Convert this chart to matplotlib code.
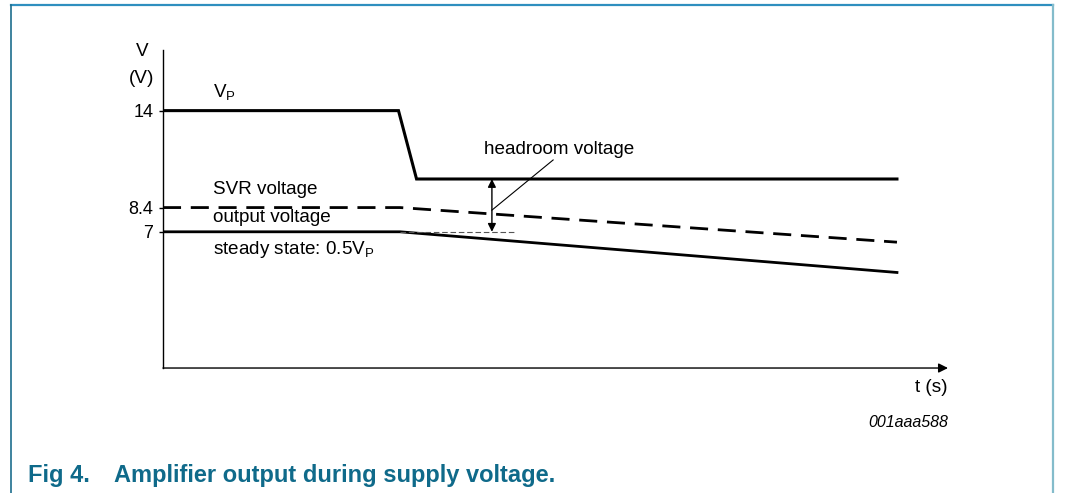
import matplotlib
matplotlib.use("Agg")
import matplotlib.pyplot as plt
from matplotlib.lines import Line2D

plt.rcParams['font.family'] = ['Liberation Sans', 'DejaVu Sans']

# schematic curves (t in arbitrary units, V in volts)
t_vp = [0, 3.0, 3.23, 9.35]
v_vp = [14, 14, 10.05, 10.05]
t_svr = [0, 3.02, 9.35]
v_svr = [8.4, 8.4, 6.4]
t_out = [0, 3.02, 9.35]
v_out = [7, 7, 4.65]
yticks = [14, 8.4, 7]
ytick_labels = ['14', '8.4', '7']
t_headroom = 4.19

fig = plt.figure(figsize=(10.66, 4.93), dpi=100)
ax = fig.add_axes([0.1529, 0.2535, 0.7364, 0.645])
ax.set_xlim(0, 10)
ax.set_ylim(-0.87, 17.5)

for s in ['top', 'right', 'bottom']:
    ax.spines[s].set_visible(False)
ax.spines['left'].set_linewidth(1.0)
ax.set_xticks([])
ax.set_yticks(yticks)
ax.set_yticklabels(ytick_labels, fontsize=13)
ax.tick_params(axis='y', length=3, width=1.0, pad=4)

# x axis with arrow
ax.annotate('', xy=(1, 0), xytext=(0, 0), xycoords='axes fraction',
            arrowprops=dict(arrowstyle='-|>', lw=1.0, color='black',
                            mutation_scale=14, shrinkA=0, shrinkB=0))

ax.plot(t_vp, v_vp, color='black', lw=2.2, solid_joinstyle='miter')
ax.plot(t_svr, v_svr, color='black', lw=2.0, dashes=(6.5, 3.5))
ax.plot(t_out, v_out, color='black', lw=2.0)
ax.plot([t_out[1], 4.48], [7, 7], color='#555555', lw=0.8, dashes=(5, 2.5))

# headroom arrow
ax.annotate('', xy=(t_headroom, v_vp[-1]), xytext=(t_headroom, v_out[0]),
            arrowprops=dict(arrowstyle='<|-|>', lw=1.0, color='black',
                            mutation_scale=12, shrinkA=0, shrinkB=0))
ax.plot([t_headroom, 4.97], [8.25, 11.15], color='black', lw=0.8)

fs = 13.6
ax.text(-0.27, 17.4, 'V', fontsize=fs, ha='center', va='center', clip_on=False)
ax.text(-0.27, 15.85, '(V)', fontsize=fs, ha='center', va='center', clip_on=False)
ax.text(0.64, 15.0, r'V$_\mathregular{P}$', fontsize=fs, va='center')
ax.text(0.64, 9.45, 'SVR voltage', fontsize=fs, va='center')
ax.text(0.64, 7.85, 'output voltage', fontsize=fs, va='center')
ax.text(0.64, 5.98, r'steady state: 0.5V$_\mathregular{P}$', fontsize=fs, va='center')
ax.text(4.09, 11.75, 'headroom voltage', fontsize=fs, va='center')
ax.text(1.0, -0.06, 't (s)', fontsize=fs, ha='right', va='center',
        transform=ax.transAxes)
ax.text(1.0, -0.17, '001aaa588', fontsize=11.5, ha='right', va='center',
        style='italic', transform=ax.transAxes)

fig.text(0.026, 0.035, 'Fig 4.', fontsize=17, fontweight='bold',
         color='#0f6a8a', va='center')
fig.text(0.107, 0.035, 'Amplifier output during supply voltage.', fontsize=17,
         fontweight='bold', color='#0f6a8a', va='center')

# frame
fig.add_artist(Line2D([0.0103, 0.988], [0.99, 0.99], color='#2f8fbf', lw=1.6))
fig.add_artist(Line2D([0.0103, 0.0103], [0.0, 0.99], color='#1e6e8e', lw=1.2))
fig.add_artist(Line2D([0.988, 0.988], [0.0, 0.99], color='#84bccb', lw=1.6))

fig.savefig('out.png', dpi=100)
